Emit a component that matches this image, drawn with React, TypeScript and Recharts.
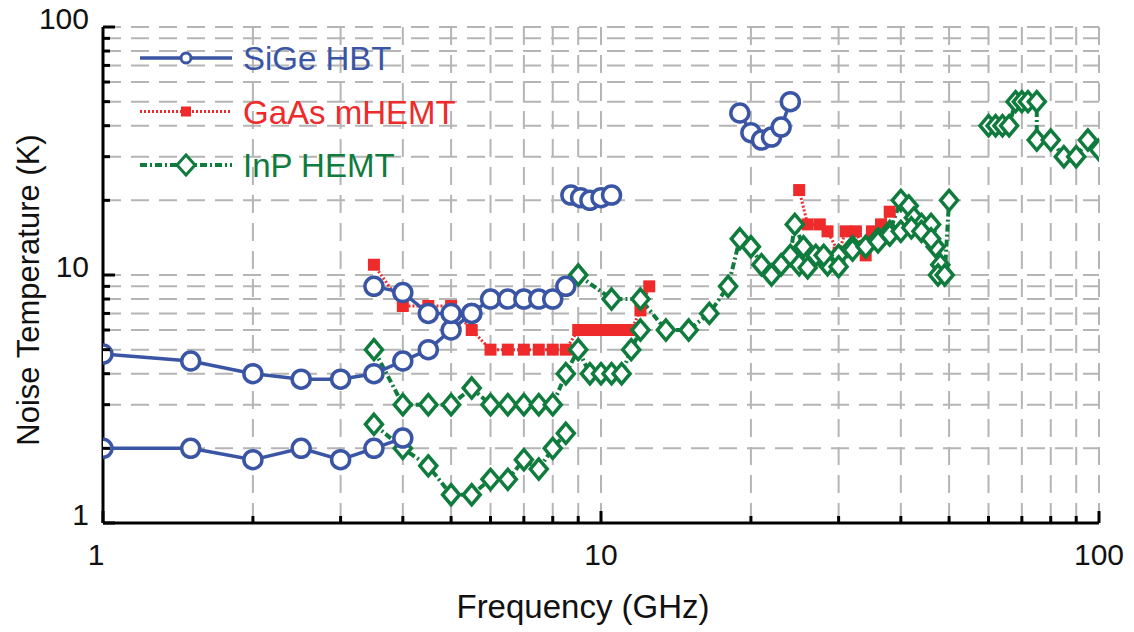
import React from 'react';
import { LineChart, Line, XAxis, YAxis, CartesianGrid } from 'recharts';

const FONT = '"Liberation Sans", Arial, Helvetica, sans-serif';
const BLUE = '#3b55a5';
const RED = '#ee2a2a';
const GREEN = '#0f7b3c';

// tick positions (GHz / K), log decades 1-100
const xTicks = [1, 2, 3, 4, 5, 6, 7, 8, 9, 10, 20, 30, 40, 50, 60, 70, 80, 90, 100];
const yTicks = [1, 2, 3, 4, 5, 6, 7, 8, 9, 10, 20, 30, 40, 50, 60, 70, 80, 90, 100];
const majorTicks = [1, 10, 100];

// SiGe HBT
const sigeAF = [1, 1.5, 2, 2.5, 3, 3.5, 4, 4.5, 5, 5.5, 6, 6.5, 7, 7.5, 8, 8.5];
const sigeAT = [4.8, 4.5, 4.0, 3.8, 3.8, 4.0, 4.5, 5, 6, 7, 8, 8, 8, 8, 8, 9];
const sigeBF = [3.5, 4, 4.5, 5, 5.5];
const sigeBT = [9, 8.5, 7, 7, 7];
const sigeCF = [1, 1.5, 2, 2.5, 3, 3.5, 4];
const sigeCT = [2, 2, 1.8, 2, 1.8, 2, 2.2];
const sigeDF = [8.7, 9.1, 9.5, 10, 10.5];
const sigeDT = [21, 20.5, 20, 20.5, 21];
const sigeEF = [19, 20, 21, 22, 23, 24];
const sigeET = [45, 37.5, 35, 36, 39.5, 50];

// GaAs mHEMT
const gaasAF = [3.5, 4, 4.5, 5, 5.5, 6, 6.5, 7, 7.5, 8, 8.5, 9, 9.5, 10, 10.5, 11, 11.5, 12, 12.5];
const gaasAT = [11, 7.5, 7.5, 7.5, 6, 5, 5, 5, 5, 5, 5, 6, 6, 6, 6, 6, 6, 7.2, 9];
const gaasBF = [25, 26, 27.5, 28.5, 30, 31, 32.5, 34, 35, 36.5, 38];
const gaasBT = [22, 16, 16, 15, 12.3, 15, 15, 12, 15, 16, 18];

// InP HEMT
const inpAF = [3.5, 4, 4.5, 5, 5.5, 6, 6.5, 7, 7.5, 8, 8.5, 9, 9.5, 10, 10.5, 11, 11.5, 12];
const inpAT = [5, 3, 3, 3, 3.5, 3, 3, 3, 3, 3, 4, 5, 4, 4, 4, 4, 5, 6];
const inpBF = [3.5, 4, 4.5, 5, 5.5, 6, 6.5, 7, 7.5, 8, 8.5];
const inpBT = [2.5, 2, 1.7, 1.3, 1.3, 1.5, 1.5, 1.8, 1.65, 2, 2.3];
const inpCF = [9, 10.5, 12, 13.5, 15, 16.5, 18, 19, 20, 21, 22, 23, 24, 24.5, 25.5, 27, 28.5, 30, 32, 34, 36, 38, 40, 41.5, 42.5, 44, 45, 46, 47, 48, 47.5, 49, 50];
const inpCT = [10, 8, 8, 6, 6, 7, 9, 14, 13, 11, 10, 11, 12, 16, 13, 12, 11, 12, 13, 13, 14, 15, 20, 19, 17, 16, 15, 16, 13, 11, 10, 10, 20];
const inpDF = [25, 26, 28, 30, 32, 34, 36, 38, 40, 42, 44, 46];
const inpDT = [11, 10.7, 12, 10.8, 12.6, 13, 13.6, 14.5, 15, 15.5, 15, 14];
const inpEF = [60, 62, 64, 66, 68, 70, 72, 75, 75, 80, 85, 90, 95, 100];
const inpET = [40, 40, 40, 40, 50, 50, 50, 50, 35, 35, 30, 30, 35, 32];

const pts = (f: number[], t: number[]) => f.map((x, i) => ({ x, y: t[i] }));

const circleDot = (p: any) => (
  <circle key={`c${p.index}`} cx={p.cx} cy={p.cy} r={9} fill="#fff" stroke={BLUE} strokeWidth={3.5} />
);
const squareDot = (p: any) => (
  <rect key={`s${p.index}`} x={p.cx - 6} y={p.cy - 6} width={12} height={12} fill={RED} />
);
const diamondDot = (p: any) => (
  <path
    key={`d${p.index}`}
    d={`M${p.cx},${p.cy - 10}L${p.cx + 8.5},${p.cy}L${p.cx},${p.cy + 10}L${p.cx - 8.5},${p.cy}Z`}
    fill="#fff"
    stroke={GREEN}
    strokeWidth={3.5}
  />
);

const tickLen = (v: number) => (majorTicks.includes(v) ? 12 : 7);

const BottomTick = ({ x, y, payload }: any) => (
  <g>
    <line x1={x} y1={y} x2={x} y2={y - tickLen(payload.value)} stroke="#000" strokeWidth={3} />
    {majorTicks.includes(payload.value) && (
      <text
        x={x + (payload.value === 1 ? -7 : 0)}
        y={y + 42}
        textAnchor="middle"
        fontSize={30}
        fontFamily={FONT}
        fill="#111"
      >
        {payload.value}
      </text>
    )}
  </g>
);
const TopTick = ({ x, y, payload }: any) => (
  <line x1={x} y1={y} x2={x} y2={y + tickLen(payload.value)} stroke="#000" strokeWidth={3} />
);
const LeftTick = ({ x, y, payload }: any) => (
  <g>
    <line x1={x} y1={y} x2={x + tickLen(payload.value)} y2={y} stroke="#000" strokeWidth={3} />
    {majorTicks.includes(payload.value) && (
      <text x={x - 14} y={y + 2} textAnchor="end" fontSize={30} fontFamily={FONT} fill="#111">
        {payload.value}
      </text>
    )}
  </g>
);
const RightTick = ({ x, y, payload }: any) => (
  <line x1={x} y1={y} x2={x - tickLen(payload.value)} y2={y} stroke="#000" strokeWidth={3} />
);

const legendRows = [
  { name: 'SiGe HBT', color: BLUE, dash: undefined, width: 3.5, marker: 'circle' },
  { name: 'GaAs mHEMT', color: RED, dash: '2 2', width: 3, marker: 'square' },
  { name: 'InP HEMT', color: GREEN, dash: '7 3 2 3', width: 4, marker: 'diamond' },
];

const LegendBox = () => (
  <svg width={1134} height={632} style={{ position: 'absolute', left: 0, top: 0, pointerEvents: 'none' }}>
    {legendRows.map((r, i) => {
      const cy = 58 + i * 53.5;
      return (
        <g key={r.name}>
          <line x1={140} y1={cy} x2={232} y2={cy} stroke={r.color} strokeWidth={r.width} strokeDasharray={r.dash} />
          {r.marker === 'circle' && <circle cx={186} cy={cy} r={5} fill="#fff" stroke={r.color} strokeWidth={3} />}
          {r.marker === 'square' && <rect x={181} y={cy - 5} width={10} height={10} fill={r.color} />}
          {r.marker === 'diamond' && (
            <path d={`M186,${cy - 10}L195,${cy}L186,${cy + 10}L177,${cy}Z`} fill="#fff" stroke={r.color} strokeWidth={3} />
          )}
          <text x={243} y={cy + 12} fontSize={33} fontFamily={FONT} fill={r.color}>
            {r.name}
          </text>
        </g>
      );
    })}
  </svg>
);

export default function App() {
  const common = { xAxisId: 'b', yAxisId: 'l', dataKey: 'y', isAnimationActive: false, activeDot: false, legendType: 'none' as const };
  return (
    <div style={{ position: 'absolute', left: 0, top: 0, width: 1134, height: 632, background: '#fff' }}>
      <LineChart width={1134} height={632} margin={{ top: 27, right: 35, bottom: 0, left: 0 }}>
        <CartesianGrid xAxisId="b" yAxisId="l" stroke="#b5b5b5" strokeWidth={2} strokeDasharray="18 10" />
        <XAxis
          xAxisId="b"
          dataKey="x"
          type="number"
          scale="log"
          domain={[1, 100]}
          allowDataOverflow
          ticks={xTicks}
          interval={0}
          height={109}
          tickSize={0}
          tickMargin={0}
          tick={<BottomTick />}
          axisLine={{ stroke: '#000', strokeWidth: 3 }}
          label={{
            content: ({ viewBox }: any) => (
              <text x={viewBox.x + viewBox.width / 2 - 18} y={viewBox.y + 95} textAnchor="middle" fontSize={33} fontFamily={FONT} fill="#111">
                Frequency (GHz)
              </text>
            ),
          }}
        />
        <XAxis
          xAxisId="t"
          orientation="top"
          dataKey="x"
          type="number"
          scale="log"
          domain={[1, 100]}
          allowDataOverflow
          ticks={xTicks}
          interval={0}
          height={0}
          tickSize={0}
          tickMargin={0}
          tick={<TopTick />}
          axisLine={{ stroke: '#000', strokeWidth: 3 }}
        />
        <YAxis
          yAxisId="l"
          type="number"
          scale="log"
          domain={[1, 100]}
          allowDataOverflow
          ticks={yTicks}
          interval={0}
          width={103}
          tickSize={0}
          tickMargin={0}
          tick={<LeftTick />}
          axisLine={{ stroke: '#000', strokeWidth: 3 }}
          label={{
            content: () => {
              const cx = 39;
              const cy = 290;
              return (
                <text x={cx} y={cy} transform={`rotate(-90, ${cx}, ${cy})`} textAnchor="middle" fontSize={31} fontFamily={FONT} fill="#111">
                  Noise Temperature (K)
                </text>
              );
            },
          }}
        />
        <YAxis
          yAxisId="r"
          orientation="right"
          type="number"
          scale="log"
          domain={[1, 100]}
          allowDataOverflow
          ticks={yTicks}
          interval={0}
          width={0}
          tickSize={0}
          tickMargin={0}
          tick={<RightTick />}
          axisLine={{ stroke: '#000', strokeWidth: 3 }}
        />

        <Line {...common} data={pts(gaasAF, gaasAT)} stroke={RED} strokeWidth={3} strokeDasharray="2 2" dot={squareDot} />
        <Line {...common} data={pts(gaasBF, gaasBT)} stroke={RED} strokeWidth={3} strokeDasharray="2 2" dot={squareDot} />

        <Line {...common} data={pts(inpAF, inpAT)} stroke={GREEN} strokeWidth={4} strokeDasharray="7 3 2 3" dot={diamondDot} />
        <Line {...common} data={pts(inpBF, inpBT)} stroke={GREEN} strokeWidth={4} strokeDasharray="7 3 2 3" dot={diamondDot} />
        <Line {...common} data={pts(inpCF, inpCT)} stroke={GREEN} strokeWidth={4} strokeDasharray="7 3 2 3" dot={diamondDot} />
        <Line {...common} data={pts(inpDF, inpDT)} stroke={GREEN} strokeWidth={4} strokeDasharray="7 3 2 3" dot={diamondDot} />
        <Line {...common} data={pts(inpEF, inpET)} stroke={GREEN} strokeWidth={4} strokeDasharray="7 3 2 3" dot={diamondDot} />

        <Line {...common} data={pts(sigeAF, sigeAT)} stroke={BLUE} strokeWidth={3.5} dot={circleDot} />
        <Line {...common} data={pts(sigeBF, sigeBT)} stroke={BLUE} strokeWidth={3.5} dot={circleDot} />
        <Line {...common} data={pts(sigeCF, sigeCT)} stroke={BLUE} strokeWidth={3.5} dot={circleDot} />
        <Line {...common} data={pts(sigeDF, sigeDT)} stroke={BLUE} strokeWidth={3.5} dot={circleDot} />
        <Line {...common} data={pts(sigeEF, sigeET)} stroke={BLUE} strokeWidth={3.5} dot={circleDot} />
      </LineChart>
      <LegendBox />
    </div>
  );
}
